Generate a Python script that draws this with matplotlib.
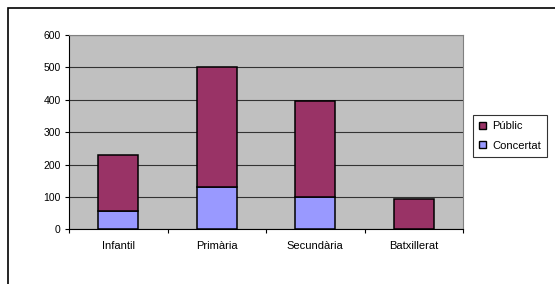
import matplotlib
matplotlib.use('Agg')
import matplotlib.pyplot as plt
from matplotlib.patches import Patch, Rectangle

# Data
categories = ['Infantil', 'Primària', 'Secundària', 'Batxillerat']
concertat = [56, 131, 100, 0]
public = [173, 369, 297, 94]

col_public = '#993366'
col_concertat = '#9999FF'

plt.rcParams['font.family'] = ['Liberation Sans', 'DejaVu Sans']

fig = plt.figure(figsize=(5.55, 2.84), dpi=100)

# outer frame (left and top edges visible)
fig.patches.append(Rectangle((8 / 555, -0.1), 1.2, (284 - 8) / 284 + 0.1,
                             transform=fig.transFigure, fill=False,
                             edgecolor='black', linewidth=1.2))

ax = fig.add_axes([69 / 555, (284 - 229.3) / 284, (463 - 69) / 555, (229.3 - 35) / 284])
ax.set_facecolor('#C0C0C0')

x = range(len(categories))
ax.bar(x, concertat, width=0.41, color=col_concertat, edgecolor='black', linewidth=1.1, zorder=3)
ax.bar(x, public, width=0.41, bottom=concertat, color=col_public, edgecolor='black', linewidth=1.1, zorder=3)

ax.set_ylim(0, 600)
ax.set_yticks(range(0, 601, 100))
ax.set_xlim(-0.5, 3.5)
ax.set_xticks(list(x))
ax.set_xticklabels(categories)
ax.set_xticks([-0.5, 0.5, 1.5, 2.5, 3.5], minor=True)
ax.tick_params(axis='x', which='major', length=0, pad=8.5, labelsize=8)
ax.tick_params(axis='x', which='minor', length=3, width=0.8, direction='out')
ax.tick_params(axis='y', length=3, width=0.8, pad=3, labelsize=7.5)

ax.grid(True, axis='y', color='#333333', linewidth=0.8, zorder=1)
ax.set_axisbelow(True)
for side in ['top', 'right']:
    ax.spines[side].set_color('#808080')
for side in ['left', 'bottom']:
    ax.spines[side].set_color('black')
    ax.spines[side].set_linewidth(0.8)

handles = [Patch(facecolor=col_public, edgecolor='black', linewidth=1.0, label='Públic'),
           Patch(facecolor=col_concertat, edgecolor='black', linewidth=1.0, label='Concertat')]
leg = fig.legend(handles=handles, loc='upper left', bbox_to_anchor=(473 / 555, (284 - 115) / 284),
                 fontsize=8, frameon=True, fancybox=False, edgecolor='black',
                 handlelength=0.6, handleheight=0.6, handletextpad=0.6,
                 borderpad=0.55, labelspacing=0.85, borderaxespad=0)
leg.get_frame().set_linewidth(0.8)

fig.savefig('out.png', dpi=100)
